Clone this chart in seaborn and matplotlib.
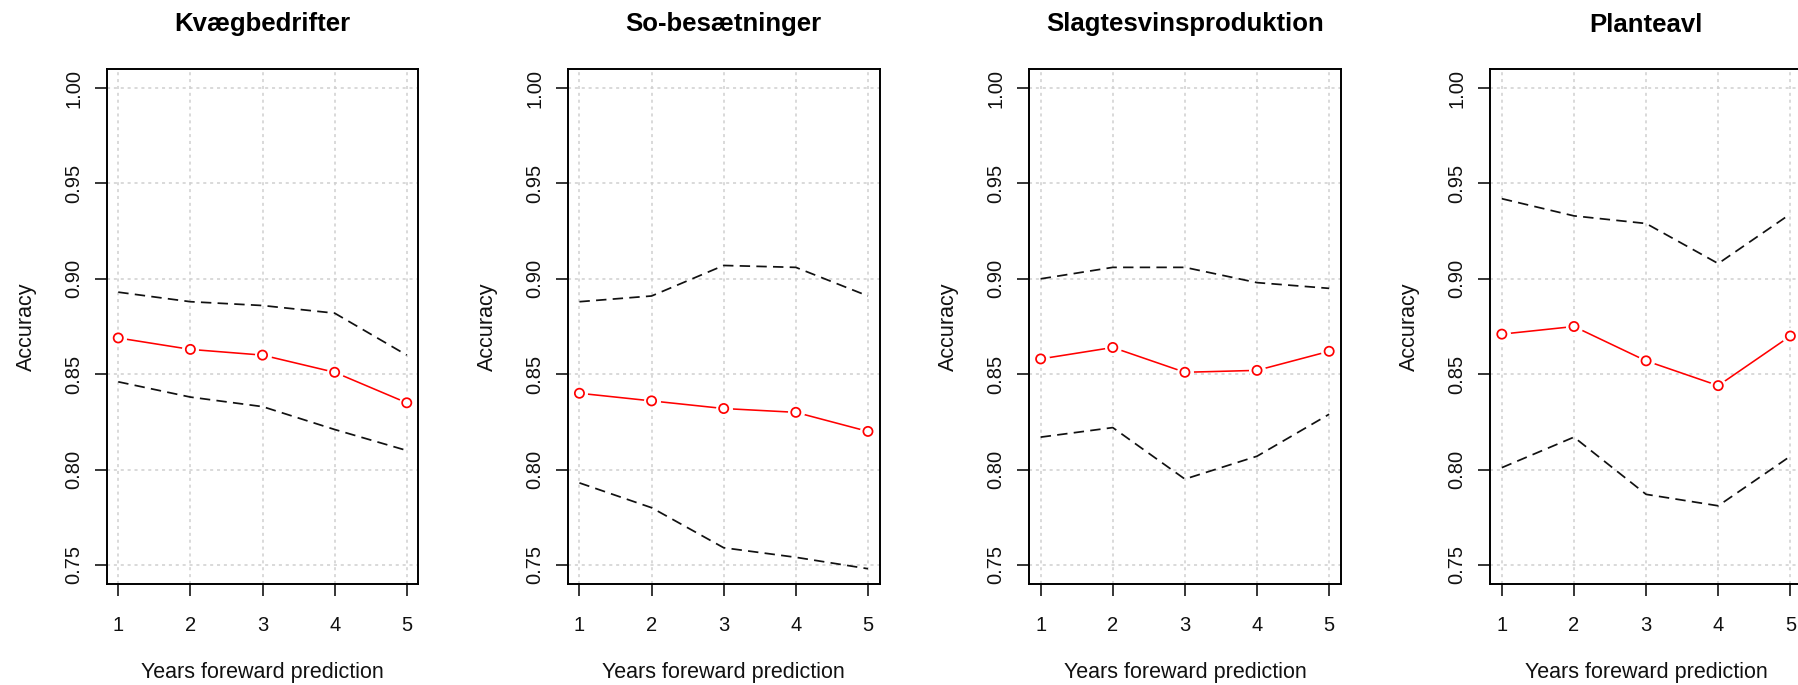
import numpy as np
import pandas as pd
import matplotlib
matplotlib.use("Agg")
import matplotlib.pyplot as plt
import seaborn as sns

# ---------------- data ----------------
years = [1, 2, 3, 4, 5]
titles = ["Kvægbedrifter", "So-besætninger", "Slagtesvinsproduktion", "Planteavl"]

kvaeg_mean = [0.869, 0.863, 0.860, 0.851, 0.835]
kvaeg_upper = [0.893, 0.888, 0.886, 0.882, 0.860]
kvaeg_lower = [0.846, 0.838, 0.833, 0.821, 0.810]

so_mean = [0.840, 0.836, 0.832, 0.830, 0.820]
so_upper = [0.888, 0.891, 0.907, 0.906, 0.891]
so_lower = [0.793, 0.780, 0.759, 0.754, 0.748]

slagt_mean = [0.858, 0.864, 0.851, 0.852, 0.862]
slagt_upper = [0.900, 0.906, 0.906, 0.898, 0.895]
slagt_lower = [0.817, 0.822, 0.795, 0.807, 0.829]

plante_mean = [0.871, 0.875, 0.857, 0.844, 0.870]
plante_upper = [0.942, 0.933, 0.929, 0.908, 0.934]
plante_lower = [0.801, 0.817, 0.787, 0.781, 0.807]

y_ticks = [0.75, 0.80, 0.85, 0.90, 0.95, 1.00]
y_tick_labels = ["0.75", "0.80", "0.85", "0.90", "0.95", "1.00"]
x_label = "Years foreward prediction"
y_label = "Accuracy"

panels = [
    (kvaeg_mean, kvaeg_upper, kvaeg_lower),
    (so_mean, so_upper, so_lower),
    (slagt_mean, slagt_upper, slagt_lower),
    (plante_mean, plante_upper, plante_lower),
]

# ---------------- style ----------------
sns.set_style("white")
plt.rcParams["font.family"] = ["Liberation Sans", "DejaVu Sans"]

W, H = 1798, 685
fig = plt.figure(figsize=(W / 100, H / 100), dpi=100)

ax_left_px = [106.7, 567.9, 1029.1, 1490.3]
ax_w_px = 311.6
ax_top_px, ax_bot_px = 69.0, 584.0
ylabel_offset_px = 26.0 - 106.7

dash_style = (0, (6.0, 3.6))
grid_style = (0, (2.0, 2.5))

for i, (title, (mean, upper, lower)) in enumerate(zip(titles, panels)):
    ax = fig.add_axes([ax_left_px[i] / W, (H - ax_bot_px) / H,
                       ax_w_px / W, (ax_bot_px - ax_top_px) / H])
    df = pd.DataFrame({"year": years, "mean": mean, "upper": upper, "lower": lower})

    ax.grid(True, color="#d0d0d0", linestyle=grid_style, linewidth=1.1)
    ax.set_axisbelow(True)

    sns.lineplot(data=df, x="year", y="upper", ax=ax, color="#111111",
                 linestyle=dash_style, linewidth=1.25, zorder=3)
    sns.lineplot(data=df, x="year", y="lower", ax=ax, color="#111111",
                 linestyle=dash_style, linewidth=1.25, zorder=3)
    sns.lineplot(data=df, x="year", y="mean", ax=ax, color="red",
                 linewidth=1.15, zorder=4)
    # white mask to reproduce the gaps around the points (type = "b")
    sns.scatterplot(data=df, x="year", y="mean", ax=ax, color="white",
                    s=150, linewidth=0, zorder=5, legend=False)
    sns.scatterplot(data=df, x="year", y="mean", ax=ax, facecolor="none",
                    edgecolor="red", s=44, linewidth=1.25, zorder=6, legend=False)

    ax.set_xlim(0.84, 5.16)
    ax.set_ylim(0.74, 1.01)
    ax.set_xticks(years)
    ax.set_xticklabels([str(y) for y in years])
    ax.set_yticks(y_ticks)
    ax.set_yticklabels(y_tick_labels)

    for sp in ax.spines.values():
        sp.set_visible(True)
        sp.set_color("black")
        sp.set_linewidth(1.4)

    ax.tick_params(axis="both", which="major", direction="out", length=8.6,
                   width=1.1, color="black", labelsize=14.5, labelcolor="#111111",
                   left=True, bottom=True)
    ax.tick_params(axis="x", pad=14.4)
    ax.tick_params(axis="y", pad=8.4, labelrotation=90)
    for lab in ax.get_yticklabels():
        lab.set_verticalalignment("center")

    ax.set_xlabel(x_label, fontsize=15.5, color="#111111")
    ax.set_ylabel(y_label, fontsize=15.5, color="#111111")
    ax.xaxis.label.set_verticalalignment("center")
    ax.yaxis.label.set_verticalalignment("center")
    ax.xaxis.set_label_coords(0.5, -0.1718)
    ax.yaxis.set_label_coords(ylabel_offset_px / ax_w_px, 0.5)

    ax.set_title(title, fontsize=18.5, fontweight="bold", pad=27, color="black")

fig.savefig("out.png", dpi=100)
